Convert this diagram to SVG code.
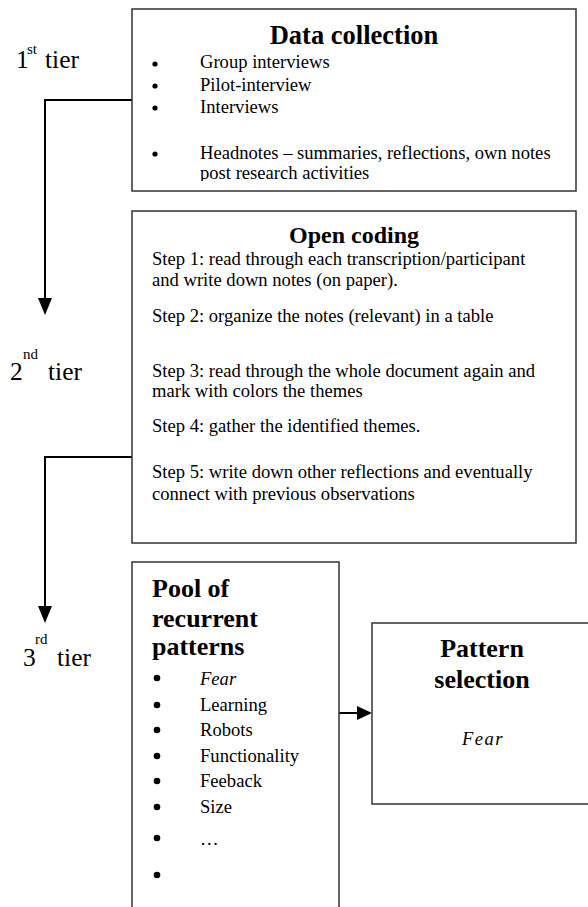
<svg xmlns="http://www.w3.org/2000/svg" width="588" height="907" viewBox="0 0 588 907" font-family="Liberation Serif, Times New Roman, serif">
<style>
.box{fill:#fff;stroke:#333;stroke-width:1.5}
.t{font-size:18.6px;fill:#000}
.b{font-weight:bold;fill:#000}
.tier{font-size:25.5px;fill:#000}
.sup{font-size:15px;fill:#000}
.con{fill:none;stroke:#000;stroke-width:2}
.dot{fill:#000}
</style>
<defs>
<clipPath id="clip1"><rect x="132" y="9" width="444" height="172"/></clipPath>
</defs>
<rect width="588" height="907" fill="#fff"/>

<g id="tiers">
<text class="tier" x="16" y="68">1</text><text class="sup" x="27" y="54">st</text><text class="tier" x="45" y="68">tier</text>
<text class="tier" x="10" y="380">2</text><text class="sup" x="23" y="359">nd</text><text class="tier" x="48" y="380">tier</text>
<text class="tier" x="23" y="666">3</text><text class="sup" x="35" y="644">rd</text><text class="tier" x="57" y="666">tier</text>
</g>

<g id="connectors">
<polyline class="con" points="132,100 45,100 45,299"/>
<polygon points="38,298 52,298 45,315"/>
<polyline class="con" points="132,457 45,457 45,607"/>
<polygon points="38,606 52,606 45,623"/>
<line class="con" x1="339" y1="713" x2="358" y2="713"/>
<polygon points="357,706 357,720 372,713"/>
</g>

<g id="data-collection">
<rect class="box" x="132" y="9" width="444" height="182"/>
<text class="b" x="354" y="44" font-size="26.5" text-anchor="middle">Data collection</text>
<circle class="dot" cx="155" cy="64" r="2.6"/>
<circle class="dot" cx="155" cy="86" r="2.6"/>
<circle class="dot" cx="155" cy="108" r="2.6"/>
<circle class="dot" cx="155" cy="154" r="2.6"/>
<text class="t" x="200" y="68">Group interviews</text>
<text class="t" x="200" y="91">Pilot-interview</text>
<text class="t" x="200" y="113">Interviews</text>
<g clip-path="url(#clip1)">
<text class="t" x="200" y="159">Headnotes – summaries, reflections, own notes</text>
<text class="t" x="200" y="179">post research activities</text>
</g>
</g>

<g id="open-coding">
<rect class="box" x="132" y="211" width="444" height="332"/>
<text class="b" x="354" y="243" font-size="24" text-anchor="middle">Open coding</text>
<text class="t" x="152" y="265">Step 1: read through each transcription/participant</text>
<text class="t" x="152" y="286">and write down notes (on paper).</text>
<text class="t" x="152" y="322">Step 2: organize the notes (relevant) in a table</text>
<text class="t" x="152" y="377">Step 3: read through the whole document again and</text>
<text class="t" x="152" y="397">mark with colors the themes</text>
<text class="t" x="152" y="432">Step 4: gather the identified themes.</text>
<text class="t" x="152" y="478">Step 5: write down other reflections and eventually</text>
<text class="t" x="152" y="500">connect with previous observations</text>
</g>

<g id="pool">
<path class="box" d="M132,920 V562 H339 V920"/>
<text class="b" font-size="26" x="152" y="597">Pool of</text>
<text class="b" font-size="26" x="152" y="627">recurrent</text>
<text class="b" font-size="26" x="152" y="655">patterns</text>
<circle class="dot" cx="157" cy="678" r="3.3"/>
<circle class="dot" cx="157" cy="705" r="3.3"/>
<circle class="dot" cx="157" cy="730" r="3.3"/>
<circle class="dot" cx="157" cy="756" r="3.3"/>
<circle class="dot" cx="157" cy="781" r="3.3"/>
<circle class="dot" cx="157" cy="807" r="3.3"/>
<circle class="dot" cx="157" cy="838" r="3.3"/>
<circle class="dot" cx="157" cy="875" r="3.3"/>
<text class="t" x="200" y="685" font-style="italic">Fear</text>
<text class="t" x="200" y="711">Learning</text>
<text class="t" x="200" y="736">Robots</text>
<text class="t" x="200" y="762">Functionality</text>
<text class="t" x="200" y="787">Feeback</text>
<text class="t" x="200" y="813">Size</text>
<text class="t" x="200" y="845">…</text>
</g>

<g id="pattern-selection">
<rect class="box" x="372" y="623" width="240" height="181"/>
<text class="b" font-size="26" x="482" y="657" text-anchor="middle">Pattern</text>
<text class="b" font-size="26" x="482" y="688" text-anchor="middle">selection</text>
<text class="t" x="483" y="745" font-size="21" letter-spacing="1.5" font-style="italic" text-anchor="middle">Fear</text>
</g>
</svg>
